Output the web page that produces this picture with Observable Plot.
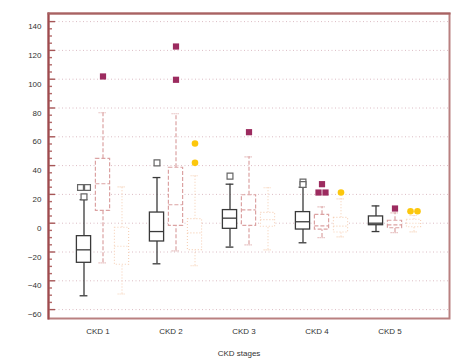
<!DOCTYPE html>
<html>
<head>
<meta charset="utf-8">
<script src="https://cdn.jsdelivr.net/npm/d3@7"></script>
<script src="https://cdn.jsdelivr.net/npm/@observablehq/plot@0.6"></script>
<style>
  html, body { margin: 0; padding: 0; background: #fff; }
  #chart svg { display: block; }
</style>
</head>
<body>
<div id="chart"></div>
<script>
const stages = ["CKD 1", "CKD 2", "CKD 3", "CKD 4", "CKD 5"];
const yTicks = [-60, -40, -20, 0, 20, 40, 60, 80, 100, 120, 140];
const yMinorTicks = d3.range(-60, 141, 5);
const xTitle = "CKD stages";

// Series 1 (solid black)
const s1Low  = [-50.4, -28.2, -16.6, -13.6, -5.8];
const s1Q1   = [-27.5, -12.7, -3.9, -4.4, -1.4];
const s1Med  = [-18.5, -5.8, 3.5, 1.0, 0.0];
const s1Q3   = [-9.0, 7.4, 9.1, 7.7, 4.7];
const s1High = [16.3, 31.7, 27.1, 25.0, 12.0];
const s1Out  = [["CKD 1", 24.8], ["CKD 1", 24.8], ["CKD 1", 18.3], ["CKD 2", 41.9], ["CKD 3", 32.7], ["CKD 4", 28.6], ["CKD 4", 26.9]];

// Series 2 (dashed pink)
const s2Low  = [-27.5, -19.2, -15.0, -10.0, -6.5];
const s2Q1   = [8.6, -1.8, -1.8, -4.5, -3.5];
const s2Med  = [27.4, 12.8, 9.3, -1.8, -1.1];
const s2Q3   = [44.7, 38.5, 19.4, 5.8, 1.7];
const s2High = [76.7, 76.0, 46.1, 11.4, 7.2];
const s2Out  = [["CKD 1", 101.9], ["CKD 2", 122.7], ["CKD 2", 99.6], ["CKD 3", 63.2], ["CKD 4", 27.1], ["CKD 4", 21.3], ["CKD 4", 21.3], ["CKD 5", 10.2]];

// Series 3 (dotted orange)
const s3Low  = [-49.2, -29.6, -18.5, -9.5, -6.0];
const s3Q1   = [-28.9, -18.7, -2.5, -6.5, -2.8];
const s3Med  = [-16.0, -6.7, 2.5, -2.0, 0.0];
const s3Q3   = [-3.2, 2.8, 7.2, 3.7, 2.4];
const s3High = [25.2, 32.9, 24.6, 16.9, 5.3];
const s3Out  = [["CKD 2", 55.3], ["CKD 2", 41.9], ["CKD 4", 21.3], ["CKD 5", 8.3], ["CKD 5", 8.3]];

const seriesDefs = [
  {low: s1Low, q1: s1Q1, med: s1Med, q3: s1Q3, high: s1High, out: s1Out,
   dx: -19, stroke: "#3a3a3a", dash: null, width: 1.3,
   dot: {symbol: "square", r: 3.3, fill: "white", stroke: "#666", strokeWidth: 1.2}},
  {low: s2Low, q1: s2Q1, med: s2Med, q3: s2Q3, high: s2High, out: s2Out,
   dx: 0, stroke: "#dba2a2", dash: "4,2", width: 1.2,
   dot: {symbol: "square", r: 3.5, fill: "#9c2b5f", stroke: "none"}},
  {low: s3Low, q1: s3Q1, med: s3Med, q3: s3Q3, high: s3High, out: s3Out,
   dx: 19, stroke: "#f6d0b6", dash: "1,2", width: 1.1,
   dot: {symbol: "circle", r: 3.3, fill: "#fcc70c", stroke: "none"}}
];

const boxInset = 29.4;
const capInset = 32.6;
const marks = [];

// grid
marks.push(Plot.ruleY(yTicks, {y: d => d, stroke: "#dcbcc4", strokeDasharray: "1,2.5", strokeWidth: 1}));
// minor / major ticks inside left axis
marks.push(Plot.tickY(yMinorTicks.filter(v => v % 20 !== 0), {y: d => d, insetRight: 397, stroke: "#b36a6a", strokeWidth: 1.4}));
marks.push(Plot.tickY(yTicks, {y: d => d, insetRight: 394, stroke: "#a65656", strokeWidth: 1.4}));

for (const s of seriesDefs) {
  const rows = stages.map((st, i) => ({stage: st, low: s.low[i], q1: s.q1[i], med: s.med[i], q3: s.q3[i], high: s.high[i]}));
  const lineStyle = {stroke: s.stroke, strokeWidth: s.width, strokeDasharray: s.dash};
  marks.push(Plot.ruleX(rows, {x: "stage", y1: "low", y2: "q1", dx: s.dx, ...lineStyle}));
  marks.push(Plot.ruleX(rows, {x: "stage", y1: "q3", y2: "high", dx: s.dx, ...lineStyle}));
  marks.push(Plot.tickY(rows, {x: "stage", y: "low", insetLeft: capInset, insetRight: capInset, dx: s.dx, stroke: s.stroke, strokeWidth: s.width, strokeDasharray: s.dash ? "1,1" : null}));
  marks.push(Plot.tickY(rows, {x: "stage", y: "high", insetLeft: capInset, insetRight: capInset, dx: s.dx, stroke: s.stroke, strokeWidth: s.width, strokeDasharray: s.dash ? "1,1" : null}));
  marks.push(Plot.barY(rows, {x: "stage", y1: "q1", y2: "q3", insetLeft: boxInset, insetRight: boxInset, dx: s.dx, fill: "white", ...lineStyle}));
  marks.push(Plot.tickY(rows, {x: "stage", y: "med", insetLeft: boxInset, insetRight: boxInset, dx: s.dx, ...lineStyle}));

  // outliers: spread duplicates side by side
  const counts = new Map();
  const outRows = s.out.map(([st, v]) => {
    const key = st + "|" + v;
    const n = s.out.filter(([a, b]) => a === st && b === v).length;
    const k = counts.get(key) || 0;
    counts.set(key, k + 1);
    const shift = n > 1 ? (k - (n - 1) / 2) * 7 : 0;
    return {stage: st, value: v, shift};
  });
  for (const sh of Array.from(new Set(outRows.map(d => d.shift)))) {
    marks.push(Plot.dot(outRows.filter(d => d.shift === sh), {x: "stage", y: "value", dx: s.dx + sh, ...s.dot}));
  }
}

// frame
marks.push(Plot.frame({stroke: "#b98080", strokeWidth: 2}));
marks.push(Plot.frame({anchor: "left", stroke: "#9e4a4e", strokeWidth: 2}));
marks.push(Plot.frame({anchor: "top", stroke: "#a86262", strokeWidth: 2}));
marks.push(Plot.axisY(yTicks, {tickSize: 0, tickPadding: 7, dy: 5, fontSize: 8, fill: "#333"}));
marks.push(Plot.axisX({tickSize: 0, tickPadding: 10, dx: -5, fontSize: 8, fill: "#333", label: null}));
marks.push(Plot.text([xTitle], {frameAnchor: "bottom", dy: 35, dx: -10, fontSize: 8, fill: "#333", lineAnchor: "middle"}));

const chart = Plot.plot({
  width: 465,
  height: 363,
  marginLeft: 48,
  marginRight: 16,
  marginTop: 13,
  marginBottom: 45,
  style: {fontFamily: "'Liberation Sans', Arial, sans-serif", background: "white"},
  x: {type: "band", domain: stages, range: [64.9, 431.1], padding: 0, label: null},
  y: {domain: [-60, 140], range: [309.1, 21.1], label: null},
  marks
});
document.getElementById("chart").appendChild(chart);
</script>
</body>
</html>
